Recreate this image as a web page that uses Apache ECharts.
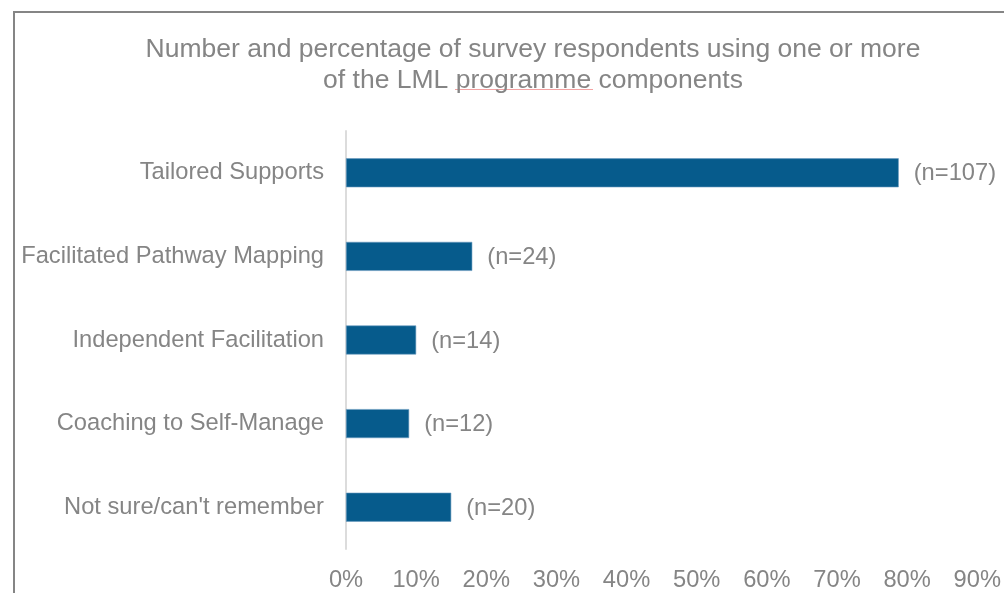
<!DOCTYPE html>
<html>
<head>
<meta charset="utf-8">
<script src="https://cdn.jsdelivr.net/npm/echarts@6/dist/echarts.min.js"></script>
<style>html,body{margin:0;padding:0;background:#fff}#c{width:1004px;height:593px}</style>
</head>
<body>
<div id="c"></div>
<script>
var categories = ['Tailored Supports', 'Facilitated Pathway Mapping', 'Independent Facilitation', 'Coaching to Self-Manage', "Not sure/can't remember"];
var percentValues = [78.8, 18.0, 10.0, 9.0, 15.0];
var respondentCounts = [107, 24, 14, 12, 20];
var titleLines = ['Number and percentage of survey respondents using one or more', 'of the LML programme components'];

var chart = echarts.init(document.getElementById('c'), null, {renderer: 'canvas'});
var font = '"Liberation Sans", Arial, sans-serif';
chart.setOption({
  animation: false,
  backgroundColor: '#ffffff',
  title: {
    text: titleLines.join('\n'),
    left: 533,
    textAlign: 'center',
    top: 34,
    padding: 0,
    textStyle: {fontFamily: font, fontSize: 26.5, fontWeight: 'normal', color: '#858585', lineHeight: 31}
  },
  grid: {left: 346, right: 23, top: 131, bottom: 44, containLabel: false},
  xAxis: {
    type: 'value', min: 0, max: 90, interval: 10,
    axisLine: {show: false}, axisTick: {show: false}, splitLine: {show: false},
    axisLabel: {formatter: '{value}%', fontFamily: font, fontSize: 23.7, color: '#858585', margin: 19}
  },
  yAxis: {
    type: 'category', data: categories, inverse: true,
    axisLine: {show: true, lineStyle: {color: '#dcdcdc', width: 2}},
    axisTick: {show: false},
    axisLabel: {fontFamily: font, fontSize: 23.7, color: '#858585', margin: 22, padding: [4, 0, 0, 0]}
  },
  series: [{
    type: 'bar', data: percentValues, barWidth: 29,
    itemStyle: {color: '#065b8c', borderColor: '#6a9ac0', borderWidth: 0.6},
    label: {
      show: true, position: 'right', distance: 15, offset: [0, 1],
      fontFamily: font, fontSize: 23.7, color: '#858585',
      formatter: function (p) { return '(n=' + respondentCounts[p.dataIndex] + ')'; }
    }
  }],
  graphic: [
    {type: 'polyline', shape: {points: [[14, 593], [14, 12], [1004, 12]]}, style: {stroke: '#858585', lineWidth: 2, fill: null}, silent: true},
    {type: 'line', shape: {x1: 455, y1: 89.5, x2: 593, y2: 89.5}, style: {stroke: '#f3a3a3', lineWidth: 1}, silent: true}
  ]
});
</script>
</body>
</html>
